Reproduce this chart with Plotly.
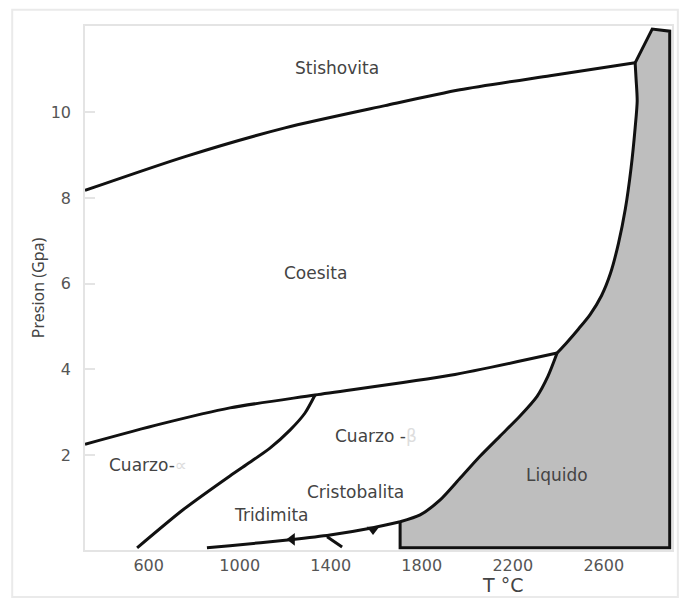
import plotly.graph_objects as go

# Phase boundaries (T in °C, P in GPa)
T_stish = [320, 760, 1199, 1639, 1968, 2364, 2738]
P_stish = [8.18, 8.97, 9.64, 10.16, 10.53, 10.86, 11.16]

T_coes = [320, 650, 957, 1331, 1925, 2395]
P_coes = [2.25, 2.72, 3.10, 3.40, 3.86, 4.38]

T_qtz = [549, 751, 957, 1045, 1133, 1221, 1287, 1331]
P_qtz = [-0.17, 0.72, 1.51, 1.83, 2.16, 2.58, 2.98, 3.40]

T_trid = [856, 957, 1221, 1397, 1586, 1705]
P_trid = [-0.17, -0.12, 0.02, 0.13, 0.30, 0.44]

# liquidus curve, below the triple point
T_liq_low = [1705, 1793, 1881, 1969, 2056, 2144, 2232, 2307, 2355, 2395]
P_liq_low = [0.44, 0.60, 0.95, 1.46, 1.97, 2.44, 2.91, 3.37, 3.84, 4.38]

# liquidus curve, above the triple point
T_liq_high = [2395, 2440, 2490, 2540, 2590, 2630, 2665, 2695, 2720, 2738, 2747, 2742, 2738]
P_liq_high = [4.38, 4.64, 4.95, 5.28, 5.72, 6.25, 6.95, 7.75, 8.70, 9.64, 10.27, 10.79, 11.16]

# remaining outline of the liquid field
T_liq_edge = [2738, 2813, 2890, 2890, 1705, 1705]
P_liq_edge = [11.16, 11.95, 11.90, -0.17, -0.17, 0.44]

T_arrows = [1230, 1586]
P_arrows = [0.03, 0.26]
arrow_symbols = ["triangle-left", "triangle-down"]

T_tick = [1384, 1450]
P_tick = [0.09, -0.15]

x_ticks = [600, 1000, 1400, 1800, 2200, 2600]
y_ticks = [2, 4, 6, 8, 10]

labels = ["Stishovita", "Coesita", "Cuarzo -<span style='color:#dddddd'>β</span>",
          "Cuarzo-<span style='color:#dddddd'>∝</span>", "Tridimita", "Cristobalita", "Liquido"]
label_T = [1428, 1331, 1600, 417, 1309, 1287, 2395]
label_P = [11.04, 6.26, 2.44, 1.76, 0.60, 1.14, 1.53]
label_anchor = ["center", "center", "center", "left", "right", "left", "center"]

LINE = dict(color="#111111", width=3)
SPLINE = dict(LINE, shape="spline", smoothing=0.7)
FONT = "DejaVu Sans"

fig = go.Figure()
fig.add_trace(go.Scatter(x=T_liq_low + T_liq_high[1:] + T_liq_edge[1:],
                         y=P_liq_low + P_liq_high[1:] + P_liq_edge[1:], mode="none",
                         fill="toself", fillcolor="#bebebe", hoverinfo="skip"))
fig.add_trace(go.Scatter(x=T_liq_low, y=P_liq_low, mode="lines", line=SPLINE))
fig.add_trace(go.Scatter(x=T_liq_high, y=P_liq_high, mode="lines", line=SPLINE))
fig.add_trace(go.Scatter(x=T_liq_edge, y=P_liq_edge, mode="lines", line=LINE))
for tx, py in [(T_stish, P_stish), (T_coes, P_coes), (T_qtz, P_qtz), (T_trid, P_trid), (T_tick, P_tick)]:
    fig.add_trace(go.Scatter(x=tx, y=py, mode="lines", line=SPLINE))
fig.add_trace(go.Scatter(x=T_arrows, y=P_arrows, mode="markers",
                         marker=dict(symbol=arrow_symbols, size=11, color="#111111")))

for txt, tx, py, anc in zip(labels, label_T, label_P, label_anchor):
    fig.add_annotation(x=tx, y=py, text=txt, showarrow=False, xanchor=anc,
                       font=dict(family=FONT, size=17, color="#444444"))

fig.add_annotation(xref="paper", yref="paper", x=0.712, y=-0.0668, text="T °C", showarrow=False,
                   xanchor="center", yanchor="middle",
                   font=dict(family=FONT, size=19, color="#444444"))

AXC = "#e4e4e4"
fig.update_xaxes(range=[320, 2900], tickvals=x_ticks, showgrid=False, zeroline=False,
                 showline=True, linecolor=AXC, linewidth=1.5, mirror=True, ticks="",
                 tickfont=dict(family=FONT, size=16, color="#555555"))
fig.update_yaxes(range=[-0.22, 12.02], tickvals=y_ticks, showgrid=False, zeroline=False,
                 showline=True, linecolor=AXC, linewidth=1.5, mirror=True,
                 ticks="inside", ticklen=10, tickcolor=AXC, tickwidth=1.5,
                 ticklabelstandoff=9,
                 tickfont=dict(family=FONT, size=16, color="#555555"),
                 title=dict(text="Presion (Gpa)", font=dict(family="Noto Sans", size=16, color="#444444"), standoff=2))

fig.add_shape(type="rect", xref="paper", yref="paper", x0=-0.124, x1=1.010, y0=-0.0897, y1=1.031,
              line=dict(color="#eaeaea", width=2), layer="below")

fig.update_layout(width=689, height=600, margin=dict(l=85, r=17, t=26, b=50, autoexpand=False),
                  plot_bgcolor="white", paper_bgcolor="white", showlegend=False)

fig.write_html("out.html")
